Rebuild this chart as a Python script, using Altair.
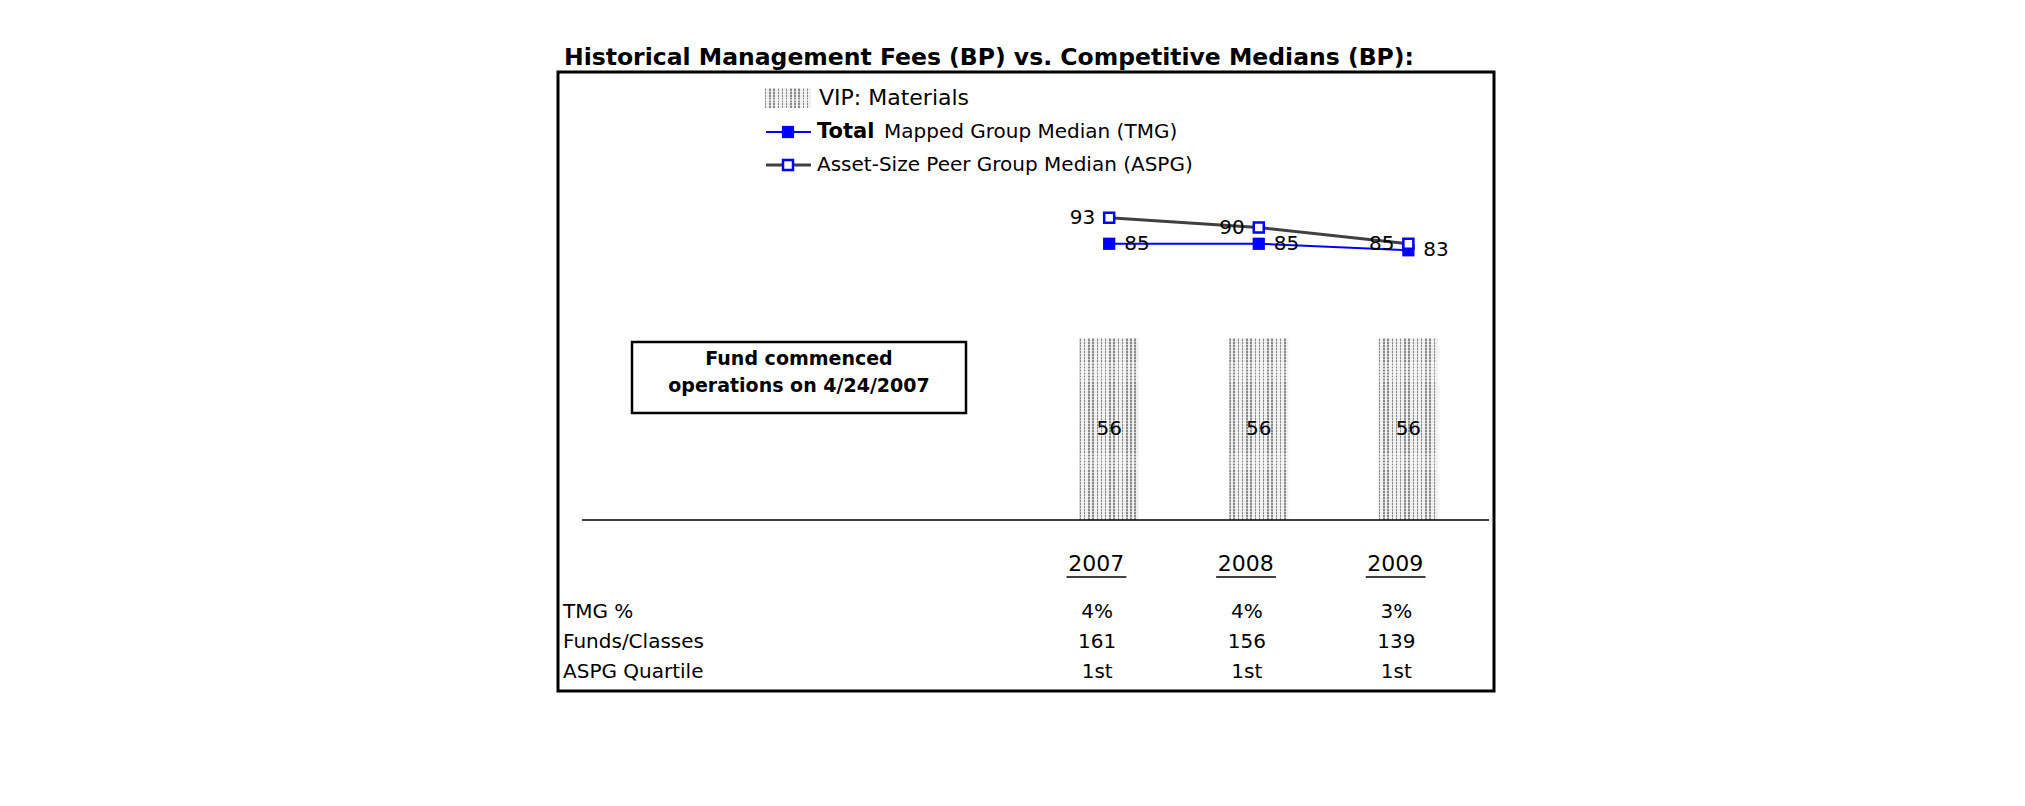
import altair as alt
import pandas as pd

# ---------------- data ----------------
years = [2007, 2008, 2009]
vip_fee = [56, 56, 56]
tmg_median = [85, 85, 83]
aspg_median = [93, 90, 85]
tmg_pct = ["4%", "4%", "3%"]
funds_classes = ["161", "156", "139"]
aspg_quartile = ["1st", "1st", "1st"]
row_labels = ["TMG %", "Funds/Classes", "ASPG Quartile"]
legend_names = ["VIP: Materials", "Total", "Mapped Group Median (TMG)",
                "Asset-Size Peer Group Median (ASPG)"]
title_text = "Historical Management Fees (BP) vs. Competitive Medians (BP):"
note_lines = ["Fund commenced", "operations on 4/24/2007"]

df = pd.DataFrame({
    "year": years, "vip": vip_fee, "tmg": tmg_median, "aspg": aspg_median,
    "tmg_pct": tmg_pct, "funds": funds_classes, "quartile": aspg_quartile,
})
one = pd.DataFrame({"k": [0]})

W, H = 936, 619
FONT = "DejaVu Sans"
BLUE = "#0000FF"
GREY_LINE = "#404040"

xs = alt.Scale(domain=[2003.349, 2009.539], nice=False, zero=False)
ys = alt.Scale(domain=[-52.6, 137.85], nice=False, zero=False)
X = alt.X("year:Q", scale=xs, axis=None)


def Y(field):
    return alt.Y(field, scale=ys, axis=None)


def stripes(n, dark, light, frac, horizontal):
    stops = []
    for i in range(n):
        a, b, c = i / n, (i + frac) / n, (i + 1) / n
        stops += [alt.GradientStop(offset=a, color=dark),
                  alt.GradientStop(offset=b, color=dark),
                  alt.GradientStop(offset=b, color=light),
                  alt.GradientStop(offset=c, color=light)]
    if horizontal:
        return alt.LinearGradient(gradient="linear", stops=stops, x1=0, x2=1, y1=0, y2=0)
    return alt.LinearGradient(gradient="linear", stops=stops, x1=0, x2=0, y1=0, y2=1)


bar_fill = stripes(14, "#8a8a8a", "#ededed", 0.35, True)
bar_dots = stripes(60, "rgba(255,255,255,0.5)", "rgba(255,255,255,0)", 0.4, False)
leg_fill = stripes(11, "#8a8a8a", "#ededed", 0.35, True)
leg_dots = stripes(7, "rgba(255,255,255,0.5)", "rgba(255,255,255,0)", 0.4, False)

base = alt.Chart(df)
oc = alt.Chart(one)
layers = []

# bars with stippled look
layers.append(base.mark_bar(size=59, color=bar_fill, strokeWidth=0).encode(
    x=X, y=Y("vip:Q")))
layers.append(base.mark_bar(size=59, color=bar_dots, strokeWidth=0).encode(
    x=X, y=Y("vip:Q")))
layers.append(base.transform_calculate(mid="datum.vip / 2").mark_text(
    font=FONT, fontSize=20, baseline="middle", color="black").encode(
    x=X, y=Y("mid:Q"), text="vip:Q"))

# baseline at zero
layers.append(alt.Chart(pd.DataFrame({"zero": [0]})).mark_rule(
    color="black", strokeWidth=1.5).encode(
    y=Y("zero:Q"), x=alt.value(24), x2=alt.value(931)))

# median lines
layers.append(base.mark_line(color=GREY_LINE, strokeWidth=3).encode(
    x=X, y=Y("aspg:Q")))
layers.append(base.mark_line(color=BLUE, strokeWidth=2).encode(
    x=X, y=Y("tmg:Q")))
layers.append(base.mark_square(size=150, color=BLUE, opacity=1).encode(
    x=X, y=Y("tmg:Q")))
layers.append(base.mark_square(size=100, fill="white", stroke=BLUE, strokeWidth=2.5,
                               opacity=1).encode(x=X, y=Y("aspg:Q")))
layers.append(base.mark_text(font=FONT, fontSize=20, align="right", baseline="middle",
                             dx=-14, color="black").encode(
    x=X, y=Y("aspg:Q"), text="aspg:Q"))
layers.append(base.mark_text(font=FONT, fontSize=20, align="left", baseline="middle",
                             dx=15, color="black").encode(
    x=X, y=Y("tmg:Q"), text="tmg:Q"))

# table below the chart
layers.append(base.mark_text(font=FONT, fontSize=22, baseline="middle", dx=-13,
                             color="black").encode(
    x=X, y=alt.value(492), text="year:N"))
layers.append(base.transform_calculate(u1="datum.year - 0.285", u2="datum.year + 0.115")
              .mark_rule(color="black", strokeWidth=1.5).encode(
    x=alt.X("u1:Q", scale=xs, axis=None), x2="u2:Q", y=alt.value(505)))
for field, yv in [("tmg_pct", 540), ("funds", 570), ("quartile", 600)]:
    layers.append(base.mark_text(font=FONT, fontSize=20, baseline="middle", dx=-12,
                                 color="black").encode(
        x=X, y=alt.value(yv), text=f"{field}:N"))
for lab, yv in zip(row_labels, [540, 570, 600]):
    layers.append(oc.mark_text(font=FONT, fontSize=20, align="left",
                               baseline="middle", color="black").encode(
        x=alt.value(5), y=alt.value(yv), text=alt.value(lab)))

# legend
layers.append(oc.mark_rect(color=leg_fill, strokeWidth=0).encode(
    x=alt.value(207), x2=alt.value(253), y=alt.value(16), y2=alt.value(36)))
layers.append(oc.mark_rect(color=leg_dots, strokeWidth=0).encode(
    x=alt.value(207), x2=alt.value(253), y=alt.value(16), y2=alt.value(36)))
layers.append(oc.mark_rule(color=BLUE, strokeWidth=2).encode(
    x=alt.value(208), x2=alt.value(253), y=alt.value(60)))
layers.append(oc.mark_square(size=150, color=BLUE, opacity=1).encode(
    x=alt.value(230), y=alt.value(60)))
layers.append(oc.mark_rule(color=GREY_LINE, strokeWidth=3).encode(
    x=alt.value(208), x2=alt.value(253), y=alt.value(93)))
layers.append(oc.mark_square(size=100, fill="white", stroke=BLUE, strokeWidth=2.5,
                             opacity=1).encode(x=alt.value(230), y=alt.value(93)))
layers.append(oc.mark_text(font=FONT, fontSize=22, align="left", baseline="middle",
                           color="black").encode(
    x=alt.value(261), y=alt.value(26), text=alt.value(legend_names[0])))
layers.append(oc.mark_text(font=FONT, fontSize=21, fontWeight="bold", align="left",
                           baseline="middle", color="black").encode(
    x=alt.value(259), y=alt.value(60), text=alt.value(legend_names[1])))
layers.append(oc.mark_text(font=FONT, fontSize=20, align="left", baseline="middle",
                           color="black").encode(
    x=alt.value(326), y=alt.value(60), text=alt.value(legend_names[2])))
layers.append(oc.mark_text(font=FONT, fontSize=20, align="left", baseline="middle",
                           color="black").encode(
    x=alt.value(259), y=alt.value(93), text=alt.value(legend_names[3])))

# annotation box
layers.append(oc.mark_rect(fill="white", stroke="black", strokeWidth=2.5).encode(
    x=alt.value(74), x2=alt.value(408), y=alt.value(270), y2=alt.value(341)))
for line, yv in zip(note_lines, [287, 314]):
    layers.append(oc.mark_text(font=FONT, fontSize=19, fontWeight="bold", align="center",
                               baseline="middle", color="black").encode(
        x=alt.value(241), y=alt.value(yv), text=alt.value(line)))

# title
layers.append(oc.mark_text(font=FONT, fontSize=23.5, fontWeight="bold", align="left",
                           baseline="middle", color="black").encode(
    x=alt.value(6), y=alt.value(-14), text=alt.value(title_text)))

chart = alt.layer(*layers).properties(
    width=W, height=H,
    autosize=alt.AutoSizeParams(type="none"),
    padding={"left": 550, "top": 64, "right": 10, "bottom": 10},
).configure_view(stroke="black", strokeWidth=3)

chart.save("out.html", embed_options={"renderer": "svg", "actions": False})
